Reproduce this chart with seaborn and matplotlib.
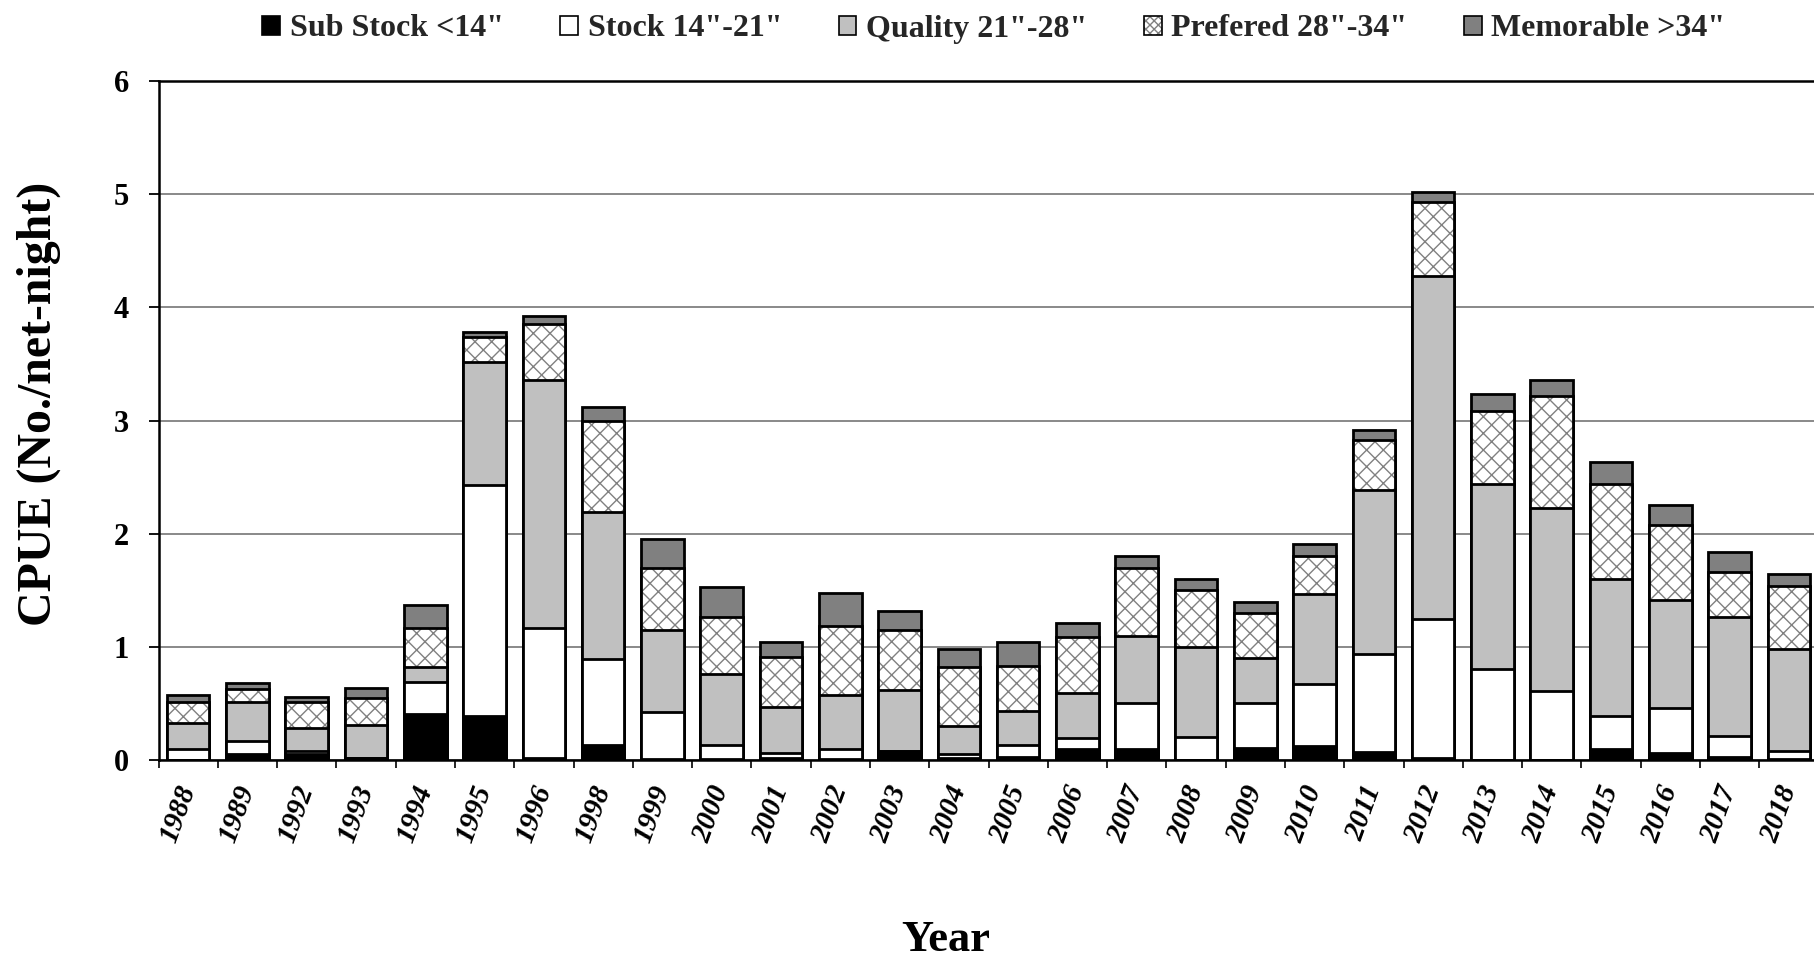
import numpy as np
import pandas as pd
import matplotlib
matplotlib.use("Agg")
import matplotlib.pyplot as plt
import seaborn as sns
from matplotlib.patches import Patch
from matplotlib.legend_handler import HandlerTuple

# ---------------- data ----------------
years = ["1988", "1989", "1992", "1993", "1994", "1995", "1996", "1998", "1999", "2000",
         "2001", "2002", "2003", "2004", "2005", "2006", "2007", "2008", "2009", "2010",
         "2011", "2012", "2013", "2014", "2015", "2016", "2017", "2018"]

sub_stock = [0.00, 0.05, 0.05, 0.02, 0.41, 0.39, 0.02, 0.13, 0.01, 0.01,
             0.02, 0.01, 0.08, 0.02, 0.03, 0.10, 0.10, 0.00, 0.11, 0.12,
             0.07, 0.02, 0.00, 0.00, 0.095, 0.06, 0.025, 0.01]
stock = [0.10, 0.12, 0.03, 0.00, 0.28, 2.04, 1.15, 0.76, 0.41, 0.12,
         0.04, 0.09, 0.00, 0.03, 0.10, 0.09, 0.40, 0.20, 0.39, 0.55,
         0.87, 1.23, 0.80, 0.61, 0.295, 0.40, 0.185, 0.07]
quality = [0.23, 0.34, 0.205, 0.29, 0.13, 1.09, 2.19, 1.30, 0.73, 0.63,
           0.41, 0.47, 0.54, 0.25, 0.30, 0.40, 0.60, 0.80, 0.40, 0.80,
           1.45, 3.03, 1.64, 1.62, 1.21, 0.955, 1.05, 0.90]
preferred = [0.18, 0.12, 0.225, 0.24, 0.35, 0.22, 0.49, 0.81, 0.55, 0.50,
             0.44, 0.61, 0.53, 0.52, 0.40, 0.50, 0.60, 0.50, 0.40, 0.33,
             0.44, 0.65, 0.64, 0.99, 0.84, 0.665, 0.40, 0.56]
memorable = [0.06, 0.05, 0.045, 0.09, 0.20, 0.04, 0.07, 0.12, 0.25, 0.27,
             0.13, 0.30, 0.17, 0.165, 0.21, 0.12, 0.105, 0.10, 0.10, 0.11,
             0.09, 0.09, 0.15, 0.14, 0.195, 0.17, 0.18, 0.105]

series_labels = ['Sub Stock <14"', 'Stock 14"-21"', 'Quality 21"-28"',
                 'Prefered 28"-34"', 'Memorable >34"']
y_ticks = [0, 1, 2, 3, 4, 5, 6]

# ---------------- style ----------------
sns.set_theme(style="white")
plt.rcParams["font.family"] = ["Liberation Serif", "DejaVu Serif"]
plt.rcParams["font.weight"] = "bold"
plt.rcParams["hatch.linewidth"] = 1.0

C_SUB, C_STOCK, C_QUAL, C_MEM = "black", "white", "#C0C0C0", "#808080"
HATCH_C = "#808080"
HATCH = "xx"

df = pd.DataFrame({"Year": years, "sub": sub_stock, "stock": stock,
                   "quality": quality, "preferred": preferred, "memorable": memorable})
df["c1"] = df["sub"]
df["c2"] = df["c1"] + df["stock"]
df["c3"] = df["c2"] + df["quality"]
df["c4"] = df["c3"] + df["preferred"]
df["c5"] = df["c4"] + df["memorable"]

W_FIG, H_FIG = 1814, 961
fig = plt.figure(figsize=(W_FIG / 100, H_FIG / 100), dpi=100)
ax = fig.add_axes([158.5 / W_FIG, 1 - 760 / H_FIG, 1660 / W_FIG, 679 / H_FIG])

LW = 2.0
common = dict(data=df, x="Year", order=years, ax=ax, width=0.72,
              saturation=1, errorbar=None)

sns.barplot(y="c5", facecolor=C_MEM, edgecolor="black", linewidth=LW, **common)
sns.barplot(y="c4", facecolor="white", edgecolor=HATCH_C, hatch=HATCH, linewidth=0, **common)
sns.barplot(y="c4", facecolor="none", edgecolor="black", linewidth=LW, **common)
sns.barplot(y="c3", facecolor=C_QUAL, edgecolor="black", linewidth=LW, **common)
sns.barplot(y="c2", facecolor=C_STOCK, edgecolor="black", linewidth=LW, **common)
sns.barplot(y="c1", facecolor=C_SUB, edgecolor="black", linewidth=LW, **common)

# ---------------- axes ----------------
ax.set_xlim(-0.5, len(years) - 0.5)
ax.set_ylim(0, 6)
ax.set_yticks(y_ticks)
ax.set_yticklabels([str(t) for t in y_ticks], fontsize=22, fontweight="bold")
ax.set_xticks(range(len(years)))
ax.set_xticklabels(years, rotation=70, ha="right", va="center", rotation_mode="anchor",
                   fontsize=21, fontstyle="italic", fontweight="bold")
ax.set_xticks(np.arange(-0.5, len(years), 1), minor=True)
ax.tick_params(axis="x", which="major", length=0, pad=19, bottom=True, colors="black")
ax.tick_params(axis="x", which="minor", length=6, width=1.2, direction="out",
               bottom=True, color="black")
ax.tick_params(axis="y", which="major", length=7, width=1.3, direction="out",
               left=True, pad=14, colors="black")

ax.yaxis.grid(True, color="#808080", linewidth=1.3)
ax.xaxis.grid(False)
ax.set_axisbelow(True)
for side in ["top", "left", "bottom"]:
    ax.spines[side].set_visible(True)
    ax.spines[side].set_color("black")
    ax.spines[side].set_linewidth(1.8)
ax.spines["right"].set_visible(False)

ax.set_xlabel("Year", fontsize=32, fontweight="bold", color="black")
ax.xaxis.set_label_coords(0.4744, -0.235)
ax.set_ylabel("CPUE (No./net-night)", fontsize=34.5, fontweight="bold", color="black")
ax.yaxis.set_label_coords(-0.0585, 0.524)

# ---------------- legend ----------------
handles = [
    Patch(facecolor=C_SUB, edgecolor="black", linewidth=1.2),
    Patch(facecolor=C_STOCK, edgecolor="black", linewidth=1.2),
    Patch(facecolor=C_QUAL, edgecolor="black", linewidth=1.2),
    (Patch(facecolor="white", edgecolor=HATCH_C, hatch="xxxx", linewidth=0),
     Patch(facecolor="none", edgecolor="black", linewidth=1.2)),
    Patch(facecolor=C_MEM, edgecolor="black", linewidth=1.2),
]
fig.legend(handles, series_labels, loc="center", bbox_to_anchor=(994 / W_FIG, 1 - 29 / H_FIG),
           ncol=5, frameon=False, prop={"weight": "bold", "size": 23},
           handlelength=0.55, handleheight=0.55, handletextpad=0.3, columnspacing=1.78,
           handler_map={tuple: HandlerTuple(ndivide=1, pad=0)})

fig.savefig("out.png", dpi=100)
